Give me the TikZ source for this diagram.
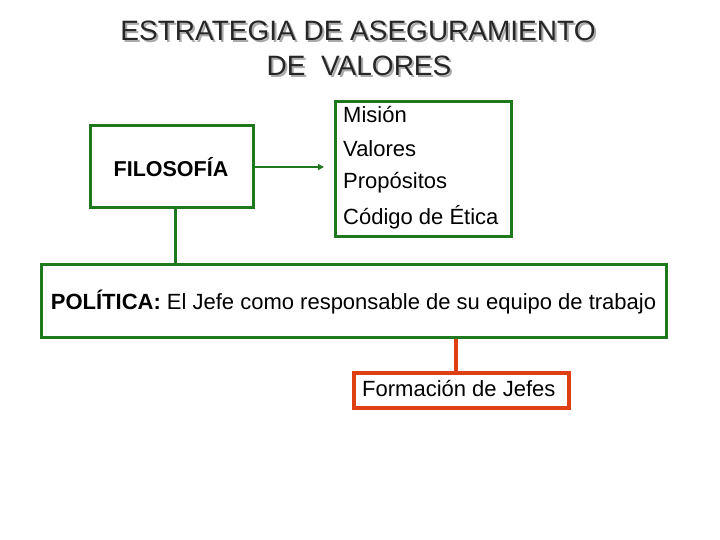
\documentclass[tikz,border=0pt]{standalone}
\usepackage{fontspec}
\setmainfont{Liberation Sans}
\usetikzlibrary{arrows.meta}
\definecolor{boxgreen}{RGB}{30,120,30}
\definecolor{boxorange}{RGB}{222,64,20}
\definecolor{shadowgray}{RGB}{170,170,170}
\newcommand{\shadowtext}[1]{\makebox[0pt][l]{\hspace{2pt}\raisebox{-2pt}{\textcolor{shadowgray}{#1}}}#1}
\tikzset{
  gbox/.style={draw=boxgreen, line width=3pt, inner sep=0pt},
  obox/.style={draw=boxorange, line width=4pt, inner sep=0pt},
  txt/.style={inner sep=0pt, font=\fontsize{22}{26}\selectfont},
  ttl/.style={inner sep=0pt, font=\fontsize{28}{34}\selectfont, text=black!85},
}
\begin{document}
\begin{tikzpicture}[x=1pt,y=-1pt]
\useasboundingbox (0,0) rectangle (720,540);
% title
\node[ttl] (t1) at (358,32) {\shadowtext{ESTRATEGIA DE ASEGURAMIENTO}};
\node[ttl] (t2) at (359,67) {\shadowtext{DE\ \ VALORES}};
% filosofia
\node[gbox, minimum width=163pt, minimum height=82pt] (fil) at (171.5,167) {};
\node[txt, font=\fontsize{21.5}{25}\selectfont\bfseries] (filt) at (171,167) {FILOSOFÍA};
% list box
\node[gbox, minimum width=176pt, minimum height=134pt] (lst) at (423,169) {};
\node[txt, anchor=west] (l1) at (343,115) {Misión};
\node[txt, anchor=west] (l2) at (343,149) {Valores};
\node[txt, anchor=west] (l3) at (343,183) {Propósitos};
\node[txt, anchor=west] (l4) at (343,217) {Código de Ética};
% politica
\node[gbox, minimum width=625pt, minimum height=73pt] (pol) at (353.5,300.5) {};
\node[txt] (polt) at (353.5,302) {\textbf{POLÍTICA:} El Jefe como responsable de su equipo de trabajo};
% formacion
\node[obox, minimum width=215pt, minimum height=35pt] (for) at (461.5,390.5) {};
\node[txt, anchor=west] (fort) at (362,389) {Formación de Jefes};
% connectors
\coordinate (arrEnd) at (324,167);
\draw[boxgreen, line width=2pt, -{Triangle[length=6pt,width=6pt]}] (fil.east) -- (arrEnd);
\draw[boxgreen, line width=3pt] (fil.south -| 175,0) -- (pol.north -| 175,0);
\draw[boxorange, line width=4pt] (pol.south -| 456,0) -- (for.north -| 456,0);
\end{tikzpicture}
\end{document}
